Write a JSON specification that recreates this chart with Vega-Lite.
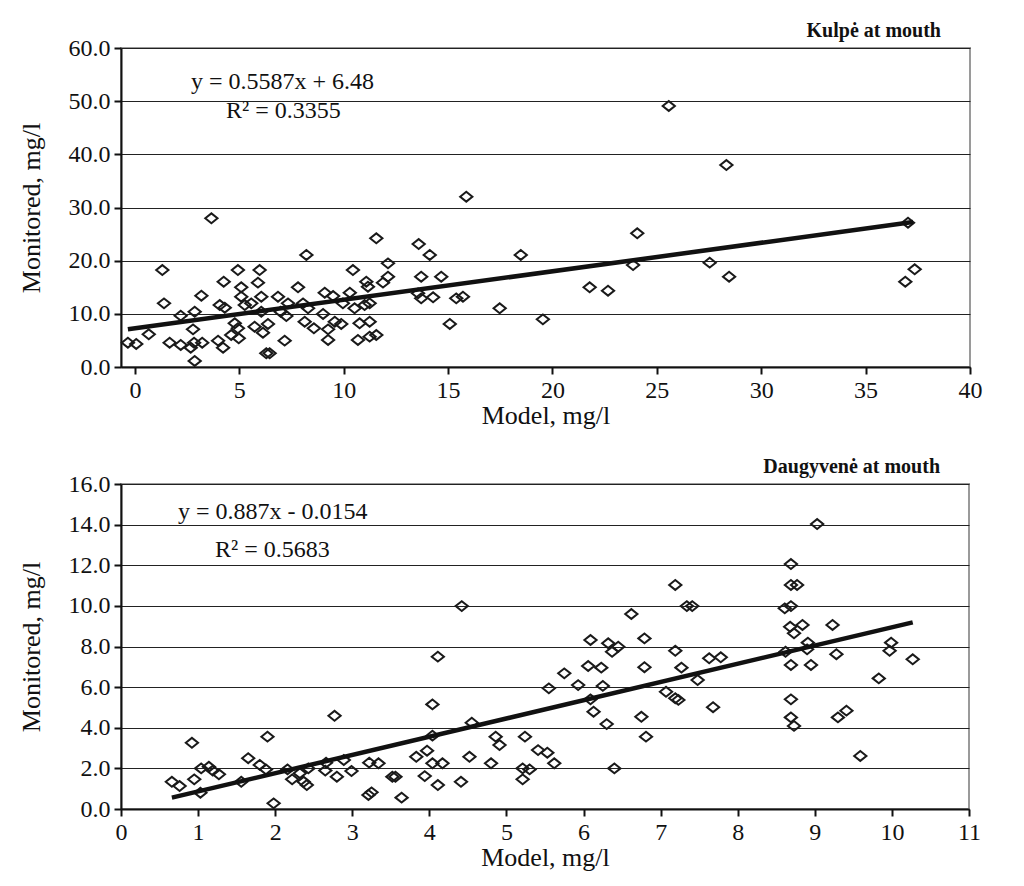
{
  "$schema": "https://vega.github.io/schema/vega-lite/v6.json",
  "background": "white",
  "padding": {"left": 17, "top": 20, "right": 5, "bottom": 5},
  "spacing": 27,
  "config": {
    "font": "Liberation Serif",
    "view": {"stroke": "#9a9a9a", "strokeWidth": 2},
    "axis": {
      "domainColor": "#111", "domainWidth": 2,
      "tickColor": "#111", "tickWidth": 2, "tickSize": 7,
      "labelFont": "Liberation Serif", "labelFontSize": 24, "labelColor": "#111", "labelPadding": 4,
      "titleFont": "Liberation Serif", "titleFontSize": 26, "titleFontWeight": "normal", "titleColor": "#111",
      "gridColor": "#222", "gridWidth": 1
    },
    "title": {"font": "Liberation Serif", "fontSize": 20, "fontWeight": "bold", "color": "#111", "anchor": "end", "frame": "group"}
  },
  "datasets": {
    "top": [
      {"model": -0.34, "monitored": 4.57}, {"model": 0.06, "monitored": 4.33}, {"model": 0.66, "monitored": 6.15},
      {"model": 1.31, "monitored": 18.24}, {"model": 1.39, "monitored": 11.98}, {"model": 1.66, "monitored": 4.57},
      {"model": 2.19, "monitored": 9.65}, {"model": 2.19, "monitored": 4.14}, {"model": 2.67, "monitored": 3.63},
      {"model": 2.78, "monitored": 7.09}, {"model": 2.86, "monitored": 10.4}, {"model": 2.83, "monitored": 4.57},
      {"model": 2.86, "monitored": 1.13}, {"model": 3.22, "monitored": 4.57}, {"model": 3.18, "monitored": 13.41},
      {"model": 3.66, "monitored": 27.97}, {"model": 3.98, "monitored": 4.95}, {"model": 4.22, "monitored": 3.63},
      {"model": 4.25, "monitored": 16.04}, {"model": 4.06, "monitored": 11.66}, {"model": 4.3, "monitored": 11.15},
      {"model": 4.61, "monitored": 6.02}, {"model": 4.93, "monitored": 18.24}, {"model": 4.97, "monitored": 5.4},
      {"model": 4.78, "monitored": 8.22}, {"model": 4.93, "monitored": 7.28}, {"model": 5.09, "monitored": 14.99},
      {"model": 5.09, "monitored": 13.22}, {"model": 5.26, "monitored": 11.66}, {"model": 5.57, "monitored": 11.98},
      {"model": 5.73, "monitored": 7.58}, {"model": 5.89, "monitored": 15.86}, {"model": 5.97, "monitored": 18.24},
      {"model": 6.05, "monitored": 13.22}, {"model": 6.05, "monitored": 10.4}, {"model": 6.13, "monitored": 6.45},
      {"model": 6.37, "monitored": 8.09}, {"model": 6.29, "monitored": 2.58}, {"model": 6.45, "monitored": 2.58},
      {"model": 6.85, "monitored": 13.22}, {"model": 6.98, "monitored": 10.4}, {"model": 7.17, "monitored": 4.95},
      {"model": 7.25, "monitored": 9.59}, {"model": 7.33, "monitored": 11.98}, {"model": 7.81, "monitored": 14.99},
      {"model": 8.05, "monitored": 11.98}, {"model": 8.21, "monitored": 21.07}, {"model": 8.13, "monitored": 8.52},
      {"model": 8.29, "monitored": 11.04}, {"model": 8.57, "monitored": 7.28}, {"model": 9.01, "monitored": 9.97},
      {"model": 9.09, "monitored": 13.97}, {"model": 9.25, "monitored": 5.08}, {"model": 9.25, "monitored": 7.09},
      {"model": 9.49, "monitored": 13.35}, {"model": 9.57, "monitored": 8.52}, {"model": 9.88, "monitored": 8.09},
      {"model": 9.96, "monitored": 11.98}, {"model": 10.29, "monitored": 13.97}, {"model": 10.44, "monitored": 18.24},
      {"model": 10.52, "monitored": 11.04}, {"model": 10.68, "monitored": 5.08}, {"model": 10.76, "monitored": 8.22},
      {"model": 11.0, "monitored": 11.66}, {"model": 11.08, "monitored": 16.04}, {"model": 11.24, "monitored": 8.52},
      {"model": 11.24, "monitored": 5.7}, {"model": 11.24, "monitored": 11.98}, {"model": 11.16, "monitored": 15.1},
      {"model": 11.56, "monitored": 6.02}, {"model": 11.56, "monitored": 24.21}, {"model": 11.88, "monitored": 15.86},
      {"model": 12.12, "monitored": 19.5}, {"model": 12.12, "monitored": 16.98}, {"model": 15.87, "monitored": 32.03},
      {"model": 13.59, "monitored": 23.13}, {"model": 14.12, "monitored": 21.07}, {"model": 13.71, "monitored": 16.98},
      {"model": 14.67, "monitored": 16.98}, {"model": 13.56, "monitored": 13.86}, {"model": 13.71, "monitored": 12.92},
      {"model": 14.28, "monitored": 13.11}, {"model": 15.39, "monitored": 12.92}, {"model": 15.71, "monitored": 13.22},
      {"model": 15.08, "monitored": 8.09}, {"model": 17.47, "monitored": 11.04}, {"model": 18.48, "monitored": 21.07},
      {"model": 19.54, "monitored": 8.97}, {"model": 21.78, "monitored": 14.99}, {"model": 22.66, "monitored": 14.35},
      {"model": 23.86, "monitored": 19.18}, {"model": 24.06, "monitored": 25.15}, {"model": 25.57, "monitored": 49.09},
      {"model": 28.33, "monitored": 37.99}, {"model": 27.53, "monitored": 19.62}, {"model": 28.46, "monitored": 16.98},
      {"model": 37.03, "monitored": 27.14}, {"model": 37.35, "monitored": 18.38}, {"model": 36.9, "monitored": 16.04}
    ],
    "topLine": [{"model": -0.34, "monitored": 7.09}, {"model": 37.27, "monitored": 27.27}],
    "topText": [
      {"model": 2.68, "monitored": 53.6, "label": "y = 0.5587x + 6.48"},
      {"model": 4.36, "monitored": 48.15, "label": "R² = 0.3355"}
    ],
    "bottom": [
      {"model": 0.66, "monitored": 1.34}, {"model": 0.76, "monitored": 1.13}, {"model": 0.92, "monitored": 3.26},
      {"model": 0.95, "monitored": 1.46}, {"model": 1.04, "monitored": 2.0}, {"model": 1.03, "monitored": 0.8},
      {"model": 1.14, "monitored": 2.08}, {"model": 1.19, "monitored": 1.89}, {"model": 1.27, "monitored": 1.71},
      {"model": 1.56, "monitored": 1.34}, {"model": 1.65, "monitored": 2.5}, {"model": 1.8, "monitored": 2.17},
      {"model": 1.88, "monitored": 1.95}, {"model": 1.9, "monitored": 3.56}, {"model": 1.98, "monitored": 0.28},
      {"model": 2.16, "monitored": 1.95}, {"model": 2.22, "monitored": 1.46}, {"model": 2.32, "monitored": 1.76},
      {"model": 2.37, "monitored": 1.34}, {"model": 2.41, "monitored": 1.18}, {"model": 2.43, "monitored": 2.0},
      {"model": 2.65, "monitored": 1.89}, {"model": 2.66, "monitored": 2.28}, {"model": 2.77, "monitored": 4.59},
      {"model": 2.8, "monitored": 1.59}, {"model": 2.89, "monitored": 2.41}, {"model": 2.99, "monitored": 1.87},
      {"model": 3.21, "monitored": 0.69}, {"model": 3.25, "monitored": 0.82}, {"model": 3.22, "monitored": 2.28},
      {"model": 3.34, "monitored": 2.25}, {"model": 3.52, "monitored": 1.59}, {"model": 3.56, "monitored": 1.59},
      {"model": 3.64, "monitored": 0.56}, {"model": 3.83, "monitored": 2.57}, {"model": 3.94, "monitored": 1.62},
      {"model": 3.97, "monitored": 2.87}, {"model": 4.04, "monitored": 2.25}, {"model": 4.11, "monitored": 1.18},
      {"model": 4.17, "monitored": 2.25}, {"model": 4.04, "monitored": 5.15}, {"model": 4.11, "monitored": 7.5},
      {"model": 4.04, "monitored": 3.61}, {"model": 4.42, "monitored": 9.99}, {"model": 4.41, "monitored": 1.34},
      {"model": 4.52, "monitored": 2.57}, {"model": 4.55, "monitored": 4.25}, {"model": 4.8, "monitored": 2.25},
      {"model": 4.86, "monitored": 3.56}, {"model": 4.91, "monitored": 3.15}, {"model": 5.21, "monitored": 2.0},
      {"model": 5.21, "monitored": 1.46}, {"model": 5.3, "monitored": 1.95}, {"model": 5.24, "monitored": 3.56},
      {"model": 5.41, "monitored": 2.9}, {"model": 5.53, "monitored": 2.77}, {"model": 5.62, "monitored": 2.25},
      {"model": 5.55, "monitored": 5.94}, {"model": 5.75, "monitored": 6.68}, {"model": 5.93, "monitored": 6.1},
      {"model": 6.06, "monitored": 7.04}, {"model": 6.09, "monitored": 8.32}, {"model": 6.09, "monitored": 5.4},
      {"model": 6.13, "monitored": 4.79}, {"model": 6.23, "monitored": 6.96}, {"model": 6.25, "monitored": 6.06},
      {"model": 6.3, "monitored": 4.18}, {"model": 6.32, "monitored": 8.16}, {"model": 6.37, "monitored": 7.74},
      {"model": 6.45, "monitored": 7.99}, {"model": 6.4, "monitored": 2.0}, {"model": 6.62, "monitored": 9.6},
      {"model": 6.79, "monitored": 8.4}, {"model": 6.79, "monitored": 6.98}, {"model": 6.75, "monitored": 4.54},
      {"model": 6.81, "monitored": 3.56}, {"model": 7.07, "monitored": 5.77}, {"model": 7.19, "monitored": 11.03},
      {"model": 7.19, "monitored": 7.79}, {"model": 7.19, "monitored": 5.45}, {"model": 9.03, "monitored": 14.03},
      {"model": 8.69, "monitored": 12.06}, {"model": 8.69, "monitored": 11.03}, {"model": 8.77, "monitored": 11.03},
      {"model": 7.34, "monitored": 9.99}, {"model": 7.41, "monitored": 9.99}, {"model": 8.61, "monitored": 9.88},
      {"model": 8.69, "monitored": 9.99}, {"model": 8.68, "monitored": 8.97}, {"model": 8.84, "monitored": 9.06},
      {"model": 8.73, "monitored": 8.65}, {"model": 9.23, "monitored": 9.06}, {"model": 8.91, "monitored": 8.19},
      {"model": 8.9, "monitored": 7.86}, {"model": 8.62, "monitored": 7.74}, {"model": 8.69, "monitored": 7.09},
      {"model": 8.95, "monitored": 7.09}, {"model": 9.28, "monitored": 7.62}, {"model": 9.99, "monitored": 8.19},
      {"model": 9.97, "monitored": 7.79}, {"model": 10.27, "monitored": 7.37}, {"model": 7.27, "monitored": 6.96},
      {"model": 7.48, "monitored": 6.35}, {"model": 7.23, "monitored": 5.37}, {"model": 7.63, "monitored": 7.42},
      {"model": 7.78, "monitored": 7.47}, {"model": 7.68, "monitored": 5.01}, {"model": 8.69, "monitored": 5.4},
      {"model": 8.69, "monitored": 4.51}, {"model": 8.73, "monitored": 4.09}, {"model": 9.3, "monitored": 4.51},
      {"model": 9.41, "monitored": 4.84}, {"model": 9.83, "monitored": 6.43}, {"model": 9.59, "monitored": 2.61}
    ],
    "bottomLine": [{"model": 0.66, "monitored": 0.56}, {"model": 10.27, "monitored": 9.19}],
    "bottomText": [
      {"model": 0.74, "monitored": 14.62, "label": "y = 0.887x - 0.0154"},
      {"model": 1.22, "monitored": 12.75, "label": "R² = 0.5683"}
    ]
  },
  "vconcat": [
    {
      "width": 849, "height": 319,
      "title": {"text": "Kulpė at mouth", "dx": -29, "offset": -5},
      "layer": [
        {
          "data": {"name": "top"},
          "mark": {"type": "point", "shape": "M-1,0L0,-0.8L1,0L0,0.8Z", "size": 150, "filled": false, "stroke": "#1a1a1a", "strokeWidth": 2, "opacity": 1},
          "encoding": {
            "x": {"field": "model", "type": "quantitative", "scale": {"domain": [-0.67, 40], "nice": false, "zero": false},
                  "axis": {"title": "Model, mg/l", "values": [0, 5, 10, 15, 20, 25, 30, 35, 40], "format": "d", "grid": false, "labelFlush": false, "titlePadding": 0}},
            "y": {"field": "monitored", "type": "quantitative", "scale": {"domain": [0, 60], "nice": false},
                  "axis": {"title": "Monitored, mg/l", "values": [0, 10, 20, 30, 40, 50, 60], "format": ".1f", "grid": true, "titlePadding": 24}}
          }
        },
        {
          "data": {"name": "topLine"},
          "mark": {"type": "line", "color": "#111", "strokeWidth": 4.5},
          "encoding": {"x": {"field": "model", "type": "quantitative"}, "y": {"field": "monitored", "type": "quantitative"}}
        },
        {
          "data": {"name": "topText"},
          "mark": {"type": "text", "align": "left", "baseline": "middle", "fontSize": 24, "font": "Liberation Serif", "color": "#111"},
          "encoding": {"x": {"field": "model", "type": "quantitative"}, "y": {"field": "monitored", "type": "quantitative"}, "text": {"field": "label"}}
        }
      ]
    },
    {
      "width": 848, "height": 325,
      "title": {"text": "Daugyvenė at mouth", "dx": -29, "offset": -5},
      "layer": [
        {
          "data": {"name": "bottom"},
          "mark": {"type": "point", "shape": "M-1,0L0,-0.8L1,0L0,0.8Z", "size": 150, "filled": false, "stroke": "#1a1a1a", "strokeWidth": 2, "opacity": 1},
          "encoding": {
            "x": {"field": "model", "type": "quantitative", "scale": {"domain": [0, 11], "nice": false, "zero": false},
                  "axis": {"title": "Model, mg/l", "values": [0, 1, 2, 3, 4, 5, 6, 7, 8, 9, 10, 11], "format": "d", "grid": false, "labelFlush": false, "titlePadding": 0}},
            "y": {"field": "monitored", "type": "quantitative", "scale": {"domain": [0, 16], "nice": false},
                  "axis": {"title": "Monitored, mg/l", "values": [0, 2, 4, 6, 8, 10, 12, 14, 16], "format": ".1f", "grid": true, "titlePadding": 24}}
          }
        },
        {
          "data": {"name": "bottomLine"},
          "mark": {"type": "line", "color": "#111", "strokeWidth": 4.5},
          "encoding": {"x": {"field": "model", "type": "quantitative"}, "y": {"field": "monitored", "type": "quantitative"}}
        },
        {
          "data": {"name": "bottomText"},
          "mark": {"type": "text", "align": "left", "baseline": "middle", "fontSize": 24, "font": "Liberation Serif", "color": "#111"},
          "encoding": {"x": {"field": "model", "type": "quantitative"}, "y": {"field": "monitored", "type": "quantitative"}, "text": {"field": "label"}}
        }
      ]
    }
  ]
}
